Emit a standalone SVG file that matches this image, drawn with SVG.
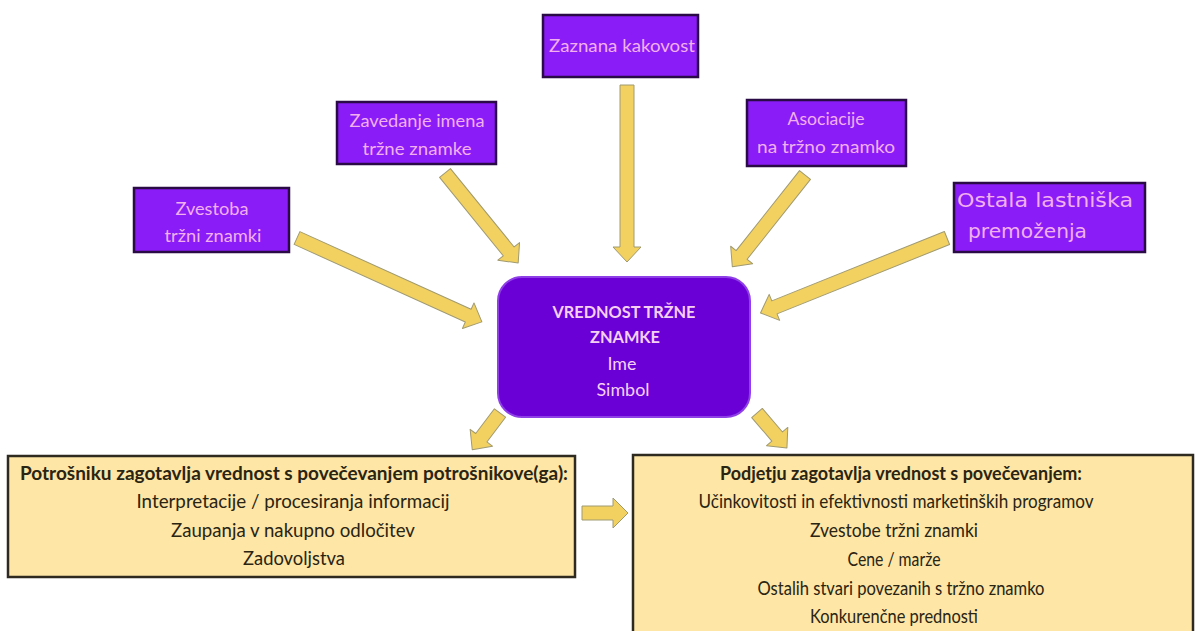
<svg xmlns="http://www.w3.org/2000/svg" width="1197" height="631" viewBox="0 0 1197 631">
  <defs>
    <style>
      .src { fill: #8A1CF7; stroke: #2A0B45; stroke-width: 2.5; }
      .src-t { font-family: Lato, "Open Sans", sans-serif; font-size: 17.5px; fill: #F2B0EE; text-anchor: middle; }
      .wide-t { font-family: "DejaVu Sans", sans-serif; font-size: 19.5px; fill: #F2B0EE; }
      .hub { fill: #6A00D6; stroke: #8E3FE6; stroke-width: 2; }
      .hub-t { font-family: Lato, "Open Sans", sans-serif; font-size: 17.5px; fill: #F6D0F4; text-anchor: middle; }
      .hub-b { font-weight: bold; }
      .out { fill: #FDE6A6; stroke: #2F2A20; stroke-width: 2.5; }
      .out-t { font-family: Lato, "Open Sans", sans-serif; font-size: 18.5px; fill: #2A2412; text-anchor: middle; }
      .out-h { font-weight: bold; }
      .arrow { fill: #F2D161; stroke: #A09A70; stroke-width: 1; stroke-linejoin: round; }
    </style>
  </defs>
  <rect width="1197" height="631" fill="#FFFFFF"/>

  <!-- block arrows: drawn along +x, then placed by translate/rotate -->
  <g id="connectors">
    <path class="arrow" transform="translate(297,238) rotate(24.4)" d="M0,-7 H188 V-14 L203,0 L188,14 V7 H0 Z"/>
    <path class="arrow" transform="translate(445,173) rotate(50.9)" d="M0,-7 H101 V-14 L116,0 L101,14 V7 H0 Z"/>
    <path class="arrow" transform="translate(627,85) rotate(90)" d="M0,-7 H162 V-14 L177,0 L162,14 V7 H0 Z"/>
    <path class="arrow" transform="translate(805,175) rotate(128.4)" d="M0,-7 H102 V-14 L117,0 L102,14 V7 H0 Z"/>
    <path class="arrow" transform="translate(947,238) rotate(158.1)" d="M0,-7 H186 V-14 L201,0 L186,14 V7 H0 Z"/>
    <path class="arrow" transform="translate(500,413) rotate(127.1)" d="M0,-7 H31 V-14 L46,0 L31,14 V7 H0 Z"/>
    <path class="arrow" transform="translate(757,413) rotate(49.4)" d="M0,-7 H31 V-14 L46,0 L31,14 V7 H0 Z"/>
    <path class="arrow" transform="translate(582,513)" d="M0,-7 H31 V-15 L46,0 L31,15 V7 H0 Z"/>
  </g>

  <g id="zvestoba">
    <rect class="src" x="134" y="188" width="155" height="64"/>
    <text class="src-t" x="212" y="215" textLength="73" lengthAdjust="spacingAndGlyphs">Zvestoba</text>
    <text class="src-t" x="213" y="242" textLength="97" lengthAdjust="spacingAndGlyphs">tržni znamki</text>
  </g>

  <g id="zavedanje">
    <rect class="src" x="337" y="102" width="159" height="62"/>
    <text class="src-t" x="417" y="127" textLength="135" lengthAdjust="spacingAndGlyphs">Zavedanje imena</text>
    <text class="src-t" x="417" y="155" textLength="109" lengthAdjust="spacingAndGlyphs">tržne znamke</text>
  </g>

  <g id="kakovost">
    <rect class="src" x="543" y="15" width="155" height="62"/>
    <text class="src-t" x="622" y="52" textLength="146" lengthAdjust="spacingAndGlyphs">Zaznana kakovost</text>
  </g>

  <g id="asociacije">
    <rect class="src" x="747" y="100" width="159" height="66"/>
    <text class="src-t" x="826" y="125" textLength="77" lengthAdjust="spacingAndGlyphs">Asociacije</text>
    <text class="src-t" x="826" y="153" textLength="138" lengthAdjust="spacingAndGlyphs">na tržno znamko</text>
  </g>

  <g id="premozenja">
    <rect class="src" x="954" y="183" width="191" height="69"/>
    <text class="wide-t" x="957" y="207" textLength="176" lengthAdjust="spacingAndGlyphs">Ostala lastniška</text>
    <text class="wide-t" x="968" y="238" textLength="119" lengthAdjust="spacingAndGlyphs">premoženja</text>
  </g>

  <g id="vrednost">
    <rect class="hub" x="498" y="277" width="252" height="140" rx="24" ry="24"/>
    <text class="hub-t hub-b" x="624" y="318" textLength="143" lengthAdjust="spacingAndGlyphs">VREDNOST TRŽNE</text>
    <text class="hub-t hub-b" x="625" y="343" textLength="70" lengthAdjust="spacingAndGlyphs">ZNAMKE</text>
    <text class="hub-t" x="622" y="370" textLength="29" lengthAdjust="spacingAndGlyphs">Ime</text>
    <text class="hub-t" x="623" y="396" textLength="53" lengthAdjust="spacingAndGlyphs">Simbol</text>
  </g>

  <g id="potrosnik">
    <rect class="out" x="8" y="456" width="567" height="121"/>
    <text class="out-t out-h" x="294" y="480" textLength="548" lengthAdjust="spacingAndGlyphs">Potrošniku zagotavlja vrednost s povečevanjem potrošnikove(ga):</text>
    <text class="out-t" x="293" y="508" textLength="313" lengthAdjust="spacingAndGlyphs">Interpretacije / procesiranja informacij</text>
    <text class="out-t" x="293" y="537" textLength="244" lengthAdjust="spacingAndGlyphs">Zaupanja v nakupno odločitev</text>
    <text class="out-t" x="294" y="565" textLength="102" lengthAdjust="spacingAndGlyphs">Zadovoljstva</text>
  </g>

  <g id="podjetje">
    <rect class="out" x="633" y="455" width="560" height="190"/>
    <text class="out-t out-h" x="901" y="480" textLength="362" lengthAdjust="spacingAndGlyphs">Podjetju zagotavlja vrednost s povečevanjem:</text>
    <text class="out-t" x="896" y="508" textLength="395" lengthAdjust="spacingAndGlyphs">Učinkovitosti in efektivnosti marketinških programov</text>
    <text class="out-t" x="894" y="537" textLength="168" lengthAdjust="spacingAndGlyphs">Zvestobe tržni znamki</text>
    <text class="out-t" x="894" y="566" textLength="93" lengthAdjust="spacingAndGlyphs">Cene / marže</text>
    <text class="out-t" x="901" y="595" textLength="287" lengthAdjust="spacingAndGlyphs">Ostalih stvari povezanih s tržno znamko</text>
    <text class="out-t" x="894" y="623" textLength="168" lengthAdjust="spacingAndGlyphs">Konkurenčne prednosti</text>
  </g>
</svg>
